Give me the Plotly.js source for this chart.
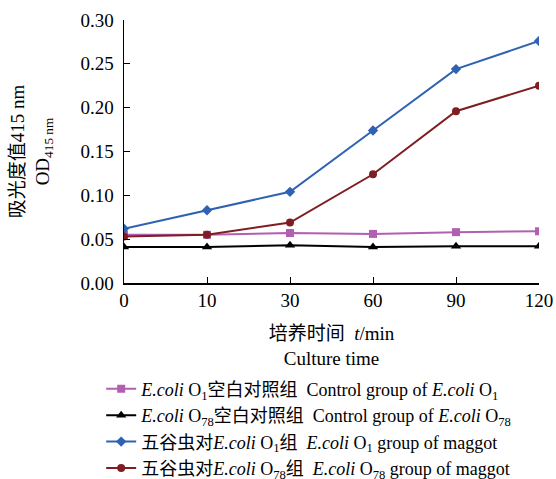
<!DOCTYPE html>
<html>
<head>
<meta charset="utf-8">
<script src="https://cdn.plot.ly/plotly-3.0.1.min.js"></script>
<style>html,body{margin:0;padding:0;background:#fff;}#chart{width:556px;height:479px;}</style>
</head>
<body>
<div id="chart"></div>
<script>
var timeLabels = ["0", "10", "30", "60", "90", "120"];
var ctrlO1 = [0.055, 0.055, 0.057, 0.056, 0.058, 0.059];
var ctrlO78 = [0.041, 0.041, 0.043, 0.041, 0.042, 0.042];
var maggotO1 = [0.062, 0.083, 0.104, 0.174, 0.244, 0.276];
var maggotO78 = [0.053, 0.055, 0.069, 0.124, 0.196, 0.225];

var names = [
  "<i>E.coli</i> O<sub>1</sub>空白对照组  Control group of <i>E.coli</i> O<sub>1</sub>",
  "<i>E.coli</i> O<sub>78</sub>空白对照组  Control group of <i>E.coli</i> O<sub>78</sub>",
  "五谷虫对<i>E.coli</i> O<sub>1</sub>组  <i>E.coli</i> O<sub>1</sub> group of maggot",
  "五谷虫对<i>E.coli</i> O<sub>78</sub>组  <i>E.coli</i> O<sub>78</sub> group of maggot"
];
var colors = ["#B25FB2", "#000000", "#2F62B3", "#7E1E22"];
var symbols = ["square", "triangle-up", "diamond", "circle"];
var sizes = [8, 9, 8, 8];
var series = [ctrlO1, ctrlO78, maggotO1, maggotO78];

var fontFam = "'Liberation Serif', 'Times New Roman', 'Noto Sans CJK SC', serif";
var traces = series.map(function (s, i) {
  return {
    x: timeLabels, y: s, type: "scatter", mode: "lines+markers", name: names[i],
    line: {color: colors[i], width: 2},
    marker: {color: colors[i], symbol: symbols[i], size: sizes[i]}
  };
});

var layout = {
  width: 556, height: 479,
  margin: {l: 124, r: 17, t: 20, b: 196, autoexpand: false},
  paper_bgcolor: "#fff", plot_bgcolor: "#fff",
  font: {family: fontFam, size: 19, color: "#000"},
  showlegend: true,
  legend: {x: -0.055, xanchor: "left", y: -0.333, yanchor: "top", font: {family: fontFam, size: 18, color: "#000"}, tracegroupgap: 0, bgcolor: "rgba(0,0,0,0)"},
  xaxis: {
    type: "category", range: [0, 5], showline: true, linecolor: "#000", linewidth: 1.5,
    ticks: "inside", ticklen: 6, tickcolor: "#000", showgrid: false, zeroline: false,
    tickfont: {family: fontFam, size: 19},
    title: {text: "培养时间  <i>t</i>/min<br>Culture time", font: {family: fontFam, size: 19}, standoff: 16},
    automargin: false
  },
  yaxis: {
    range: [0, 0.3], dtick: 0.05, tickformat: ".2f", showline: true, linecolor: "#000", linewidth: 1.5,
    ticks: "inside", ticklen: 6, tickcolor: "#000", showgrid: false, zeroline: false,
    tickfont: {family: fontFam, size: 19}, ticklabelstandoff: 5,
    title: {text: "吸光度值415 nm<br>OD<sub>415 nm</sub>", font: {family: fontFam, size: 19}, standoff: 26},
    automargin: false
  }
};
Plotly.newPlot("chart", traces, layout, {displayModeBar: false, staticPlot: true});
</script>
</body>
</html>
